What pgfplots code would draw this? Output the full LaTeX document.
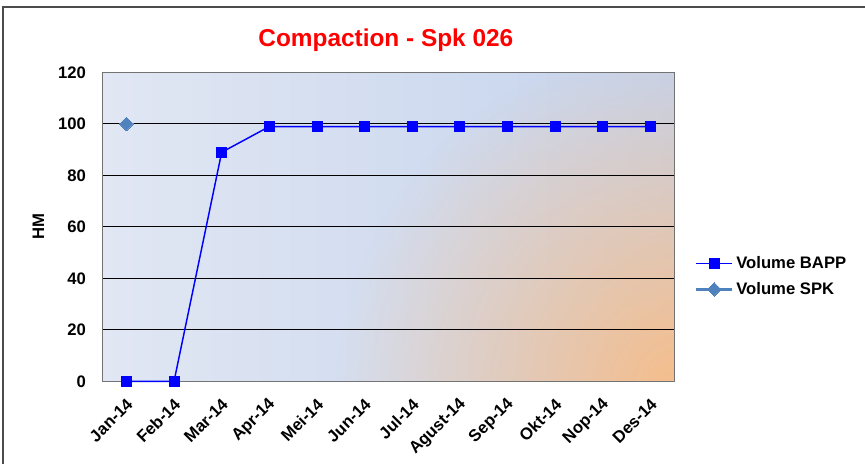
\documentclass[border=0pt]{standalone}
\usepackage{fontspec}
\setmainfont{Liberation Sans}
\usepackage{pgfplots}
\pgfplotsset{compat=1.18}
\usetikzlibrary{fadings}
\tikzfading[name=myfade, inner color=transparent!0, outer color=transparent!100]
\definecolor{bapp}{HTML}{0000FF}
\definecolor{spk}{HTML}{4F81BD}
\definecolor{bgL}{HTML}{E1E7F3}
\definecolor{bgM}{HTML}{C4D3ED}
\definecolor{bgO}{HTML}{F8BD87}
\newcommand{\lblfont}{\fontsize{12.5}{14}\selectfont\bfseries}
\begin{document}
\begin{tikzpicture}[x=1pt,y=1pt]
\useasboundingbox (-76.9,-61.9) rectangle (571.9,286.1);
\draw[black!70, line width=1.2pt] (-74.6,-70) -- (-74.6,280.9) -- (580,280.9);
\fill[left color=bgL, right color=bgM] (0,0) rectangle (429,231.75);
\begin{scope}
\clip (0,0) rectangle (429,231.75);
\fill[bgO, path fading=myfade] (440,-10) circle (265);
\end{scope}
\begin{axis}[
  at={(0,0)}, anchor=south west, scale only axis,
  width=429pt, height=231.75pt,
  xmin=-0.5, xmax=11.5, ymin=0, ymax=120,
  ytick={0,20,...,120},
  xtick={0,...,11},
  xticklabels={Jan-14,Feb-14,Mar-14,Apr-14,Mei-14,Jun-14,Jul-14,Agust-14,Sep-14,Okt-14,Nop-14,Des-14},
  ymajorgrids, grid style={black, line width=0.75pt},
  major tick length=0pt,
  axis line style={black!55, line width=1pt},
  tick label style={font=\lblfont},
  /pgf/number format/assume math mode=true,
  xticklabel style={rotate=45, anchor=east, xshift=-5.5pt, yshift=-12.5pt},
  yticklabel style={xshift=-9pt},
  ylabel={HM},
  ylabel style={font=\lblfont, at={(axis description cs:-0.112,0.5)}, anchor=center},
  title={Compaction - Spk 026},
  title style={font=\fontsize{18.3}{22}\selectfont\bfseries, text=red, at={(0.5,1)}, anchor=center, yshift=18.5pt, xshift=-2pt},
  legend style={at={(1.035,0.34)}, anchor=west, draw=none, fill=none, font=\lblfont, row sep=5pt, inner sep=0pt},
  legend cell align=left,
  legend image code/.code={\draw[mark repeat=2, mark phase=2] plot coordinates {(0pt,0pt) (13.5pt,0pt) (27pt,0pt)};},
  clip=false
]
\addplot[bapp, line width=1.1pt, mark=square*, mark size=3.75pt, mark options={fill=bapp, draw=bapp, line width=0pt}]
  coordinates {(0,0) (1,0) (2,89) (3,99) (4,99) (5,99) (6,99) (7,99) (8,99) (9,99) (10,99) (11,99)};
\addlegendentry{Volume BAPP}
\addplot[spk, line width=2.2pt, mark=square*, mark size=3.6pt, mark options={rotate=45, fill=spk, draw=spk, line width=0pt}]
  coordinates {(0,100)};
\addlegendentry{Volume SPK}
\end{axis}
\end{tikzpicture}
\end{document}
